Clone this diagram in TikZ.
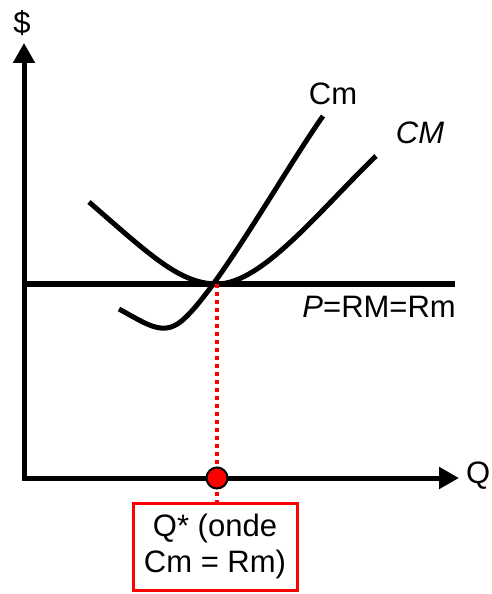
\documentclass[tikz,border=0pt]{standalone}
\usepackage{fontspec}
\setmainfont{Liberation Sans}
\usetikzlibrary{arrows.meta}
\begin{document}
\begin{tikzpicture}[x=1pt,y=-1pt,
    lbl/.style={font=\fontsize{31}{36}\selectfont, inner sep=0pt},
    curve/.style={line width=5pt},
    axis/.style={line width=5pt, -{Triangle[width=21pt,length=20pt]}}]
    \useasboundingbox (0,0) rectangle (492,594);
    % axes
    \coordinate (O) at (24,478);
    \coordinate (ytop) at (24,43);
    \coordinate (xend) at (459,478);
    \draw[axis] (O) -- (ytop);
    \draw[axis] ([xshift=-2.5pt]O) -- (xend);
    \node[lbl] (dollar) at (22,23) {\$};
    \node[lbl, anchor=west] (qlab) at (466,476) {Q};
    % price line P = RM = Rm
    \coordinate (pl) at (24,284);
    \coordinate (pr) at (455,284);
    \draw[line width=5.5pt] (pl) -- (pr);
    \node[lbl, anchor=base east] (plab) at (456,317) {\textit{P}=RM=Rm};
    % equilibrium point
    \coordinate (E) at (217,284);
    % average cost CM
    \draw[curve] (89,202) .. controls (150,255) and (180,284) .. (E)
        .. controls (262,284) and (320,210) .. (376,156);
    \node[lbl] (cmlab) at (420,133) {\textit{CM}};
    % marginal cost Cm
    \draw[curve] (119,309) .. controls (150,326) and (165,338) .. (186,317)
        .. controls (222,282) and (285,170) .. (323,116);
    \node[lbl] (mclab) at (333,94) {Cm};
    % box with Q*
    \node[draw=red, line width=3pt, minimum width=164pt, minimum height=87pt,
        align=center, lbl] (qbox) at (215,546.5) {Q* (onde\\Cm = Rm)};
    \draw[red, line width=3.5pt, dash pattern=on 4pt off 4pt] (E) -- (qbox.north -| E);
    \node[circle, fill=red, draw=black, line width=2pt, minimum size=21pt, inner sep=0pt]
        (qdot) at (E |- O) {};
\end{tikzpicture}
\end{document}
